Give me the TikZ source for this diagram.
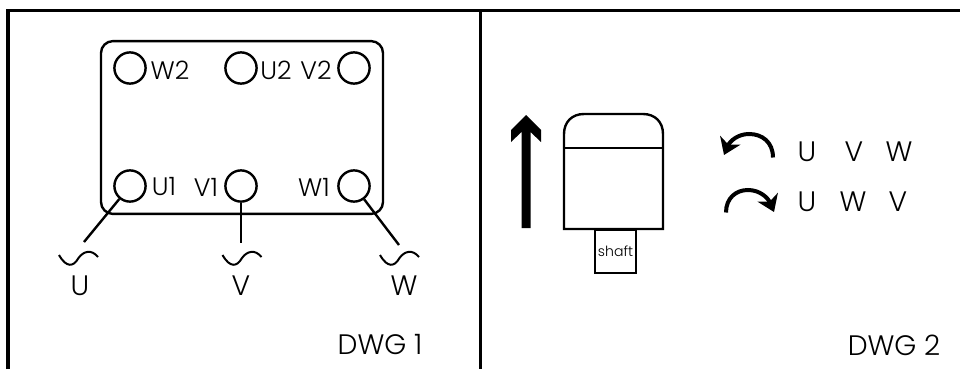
\documentclass[tikz,border=0pt]{standalone}
\usepackage{fontspec}
\setmainfont{Poppins Light}
\usepackage{xcolor}
\usetikzlibrary{arrows.meta}

\tikzset{
  frameline/.style={line width=0.75mm},
  wireline/.style={line width=0.6mm},
  terminal/.style={draw, circle, line width=0.6mm, minimum size=0.78cm, inner sep=0pt},
  termlabel/.style={font=\fontsize{18}{18}\selectfont, inner sep=0pt},
  phaselabel/.style={font=\fontsize{20}{20}\selectfont, inner sep=0pt},
  turnarrow/.style={line width=1mm, -{Stealth[length=0.4cm, width=0.55cm, inset=0.12cm]}},
  supplywave/.pic={\draw[line width=0.5mm] (-19.5,-1) .. controls (-12,12) and (-5,11) .. (0,2) .. controls (5,-5) and (13,-7) .. (19.5,1);}
}

\begin{document}
\begin{tikzpicture}[x=0.025cm, y=-0.025cm]
        \useasboundingbox (0,0) rectangle (960,369);

        % Frame
        \draw[frameline] (8,369) -- (8,10) -- (960,10);
        \draw[frameline] (480,10) -- (480,369);

        % Terminal box
        \node[draw, rectangle, rounded corners=0.3cm, line width=0.6mm, minimum width=7.05cm, minimum height=4.32cm] (tbox) at (242,127.5) {};

        % Terminals
        \foreach \name/\x/\y in {wtwo/130/68, utwo/241/68, vtwo/354/68, uone/130/186, vone/241/186, wone/354/186} {
            \node[terminal, fill=white] (\name) at (\x,\y) {};
        }
        \node[termlabel] (lwtwo) at (170,70) {W2};
        \node[termlabel] (lutwo) at (276,70) {U2};
        \node[termlabel] (lvtwo) at (316,70) {V2};
        \node[termlabel] (luone) at (164,187) {U1};
        \node[termlabel] (lvone) at (206,187) {V1};
        \node[termlabel] (lwone) at (314,187) {W1};

        % Supply leads
        \coordinate (uend) at (84,242);
        \coordinate (vend) at (241,243);
        \coordinate (wend) at (399,245);
        \draw[wireline] (uone) -- (uend);
        \draw[wireline] (vone) -- (vend);
        \draw[wireline] (wone) -- (wend);

        % Supply symbols
        \foreach \x in {78.5,242,399.5} {
            \pic at (\x,256) {supplywave};
        }
        \node[phaselabel] (lu) at (80,286) {U};
        \node[phaselabel] (lv) at (241,286) {V};
        \node[phaselabel] (lw) at (404,286) {W};

        \node[phaselabel] (dwgone) at (380,345) {DWG 1};

        % Direction arrow
        \fill (526,115) -- (541,130) -- (541,142) -- (530.5,132) -- (530.5,228) -- (521.5,228) -- (521.5,132) -- (511,142) -- (511,130) -- cycle;

        % Motor body
        \draw[wireline, line join=miter] (564,229) -- (564,134) .. controls (564,122) and (572,114) .. (584,114) -- (643,114) .. controls (655,114) and (663,122) .. (663,134) -- (663,229) -- cycle;
        \draw[wireline] (564,148) -- (663,148);

        % Shaft
        \node[draw, rectangle, line width=0.6mm, minimum width=1.02cm, minimum height=1.08cm, inner sep=0pt, font=\fontsize{10}{10}\selectfont] (shaft) at (615.5,251.5) {shaft};

        % Rotation arrows
        \draw[turnarrow] (773,157.5) .. controls (773,142) and (762,134) .. (749,134) .. controls (738,134) and (730,141) .. (724,155);
        \draw[turnarrow] (726,212.5) .. controls (726,198) and (736,190) .. (748,190) .. controls (760,190) and (768,198) .. (774,212);

        % Phase orders
        \foreach \name/\txt/\x/\y in {ra/U/807/152, rb/V/854/152, rc/W/899/152, rd/U/807/202, re/W/853/202, rf/V/898/202} {
            \node[phaselabel] (\name) at (\x,\y) {\txt};
        }

        \node[phaselabel] (dwgtwo) at (894,345) {DWG 2};
    \end{tikzpicture}
\end{document}
